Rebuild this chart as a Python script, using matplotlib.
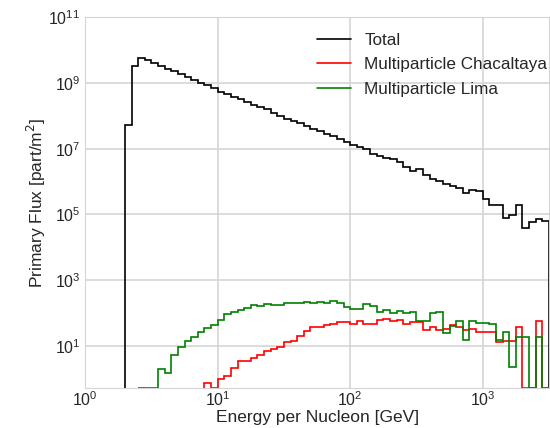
import numpy as np
import matplotlib
matplotlib.use("Agg")
import matplotlib.pyplot as plt
import seaborn as sns
from matplotlib.ticker import FixedLocator, LogFormatterSciNotation, NullLocator

# log-spaced energy bins, 20 per decade, 1 GeV .. 10^3.5 GeV
edges = np.logspace(0, 3.5, 71)

# total flux, bins 6..69
total_start = 6
total = [5.2e7, 3.3e9, 5.6e9, 5.0e9, 4.1e9, 3.4e9, 2.75e9, 2.3e9, 1.86e9, 1.5e9,
         1.26e9, 1.02e9, 8.5e8, 6.9e8, 5.4e8, 4.6e8, 3.8e8, 3.2e8, 2.7e8, 2.2e8,
         1.9e8, 1.6e8, 1.2e8, 1.0e8, 8.3e7, 7.1e7, 5.9e7, 5.0e7, 3.9e7, 3.4e7,
         2.75e7, 2.4e7, 1.95e7, 1.55e7, 1.3e7, 1.1e7, 1.0e7, 7.1e6, 6.0e6, 5.2e6,
         4.7e6, 4.0e6, 2.8e6, 2.1e6, 2.4e6, 1.55e6, 1.23e6, 1.02e6, 8.7e5, 7.4e5,
         6.2e5, 4.4e5, 5.4e5, 5.1e5, 3.0e5, 1.95e5, 1.95e5, 7.6e4, 9.5e4, 1.9e5,
         3.8e4, 5.9e4, 7.4e4, 6.2e4]

# multiparticle Lima, bins 8..69
lima_start = 8
lima = [0, 0, 0, 1.95, 1.45, 5.2, 8.9, 14.5, 18.6, 26, 36, 44, 63, 91, 107, 120,
        141, 178, 158, 190, 170, 178, 200, 204, 204, 209, 204, 209, 204, 224,
        200, 151, 135, 135, 190, 158, 105, 120, 102, 115, 98, 105, 55, 55, 98,
        105, 24, 39, 55, 15, 55, 50, 49, 47, 15.5, 26, 2.3, 18, 18, 0, 19, 0]

# multiparticle Chacaltaya, bins 18..69
chac_start = 18
chacaltaya = [0.72, 0, 1.0, 1.23, 2.1, 3.4, 3.4, 4.2, 5.4, 6.8, 8.1, 9.5, 12.9,
              14.5, 20, 28, 37, 37, 42, 45, 52, 52, 47, 55, 47, 47, 59, 66, 55,
              59, 47, 52, 52, 30, 37, 30, 33, 42, 37, 30, 33, 26, 26, 26, 13,
              14.5, 14.5, 37, 0, 0, 55, 0]

ymin, ymax = 0.52, 1e11

sns.set_style("whitegrid")
plt.rcParams['font.family'] = ['Liberation Sans', 'DejaVu Sans']

fig = plt.figure(figsize=(5.5, 4.28), dpi=100)
ax = fig.add_axes([0.155, 0.0935, 0.843, 0.866])


def draw(vals, start, color, label):
    v = np.array(vals, dtype=float)
    v = np.where(v > 0, v, ymin)
    e = edges[start:start + len(v) + 1]
    ax.stairs(v, e, baseline=ymin, color=color, linewidth=1.2, label=label)


draw(total, total_start, "black", "Total")
draw(chacaltaya, chac_start, "red", "Multiparticle Chacaltaya")
draw(lima, lima_start, "green", "Multiparticle Lima")

ax.set_xscale("log")
ax.set_yscale("log")
ax.set_xlim(1, edges[-1])
ax.set_ylim(ymin, ymax)

ax.yaxis.set_major_locator(FixedLocator([10.0 ** k for k in (1, 3, 5, 7, 9, 11)]))
ax.yaxis.set_major_formatter(LogFormatterSciNotation())
ax.yaxis.set_minor_locator(NullLocator())
ax.xaxis.set_minor_locator(NullLocator())
ax.tick_params(labelsize=11.5, colors="#262626", length=0)
ax.tick_params(axis="x", pad=2)
ax.grid(True, color="#d5d5d5", linewidth=1.2)
for s in ax.spines.values():
    s.set_color("#d5d5d5")

ax.set_xlabel("Energy per Nucleon [GeV]", fontsize=12.5, color="#262626", labelpad=0.5)
ax.set_ylabel("Primary Flux [part/m$^2$]", fontsize=12.5, color="#262626", labelpad=0)

leg = ax.legend(loc="upper right", bbox_to_anchor=(1.03, 1.0), frameon=False,
                fontsize=12.3, labelspacing=0.55)

fig.savefig("out.png", dpi=100)
